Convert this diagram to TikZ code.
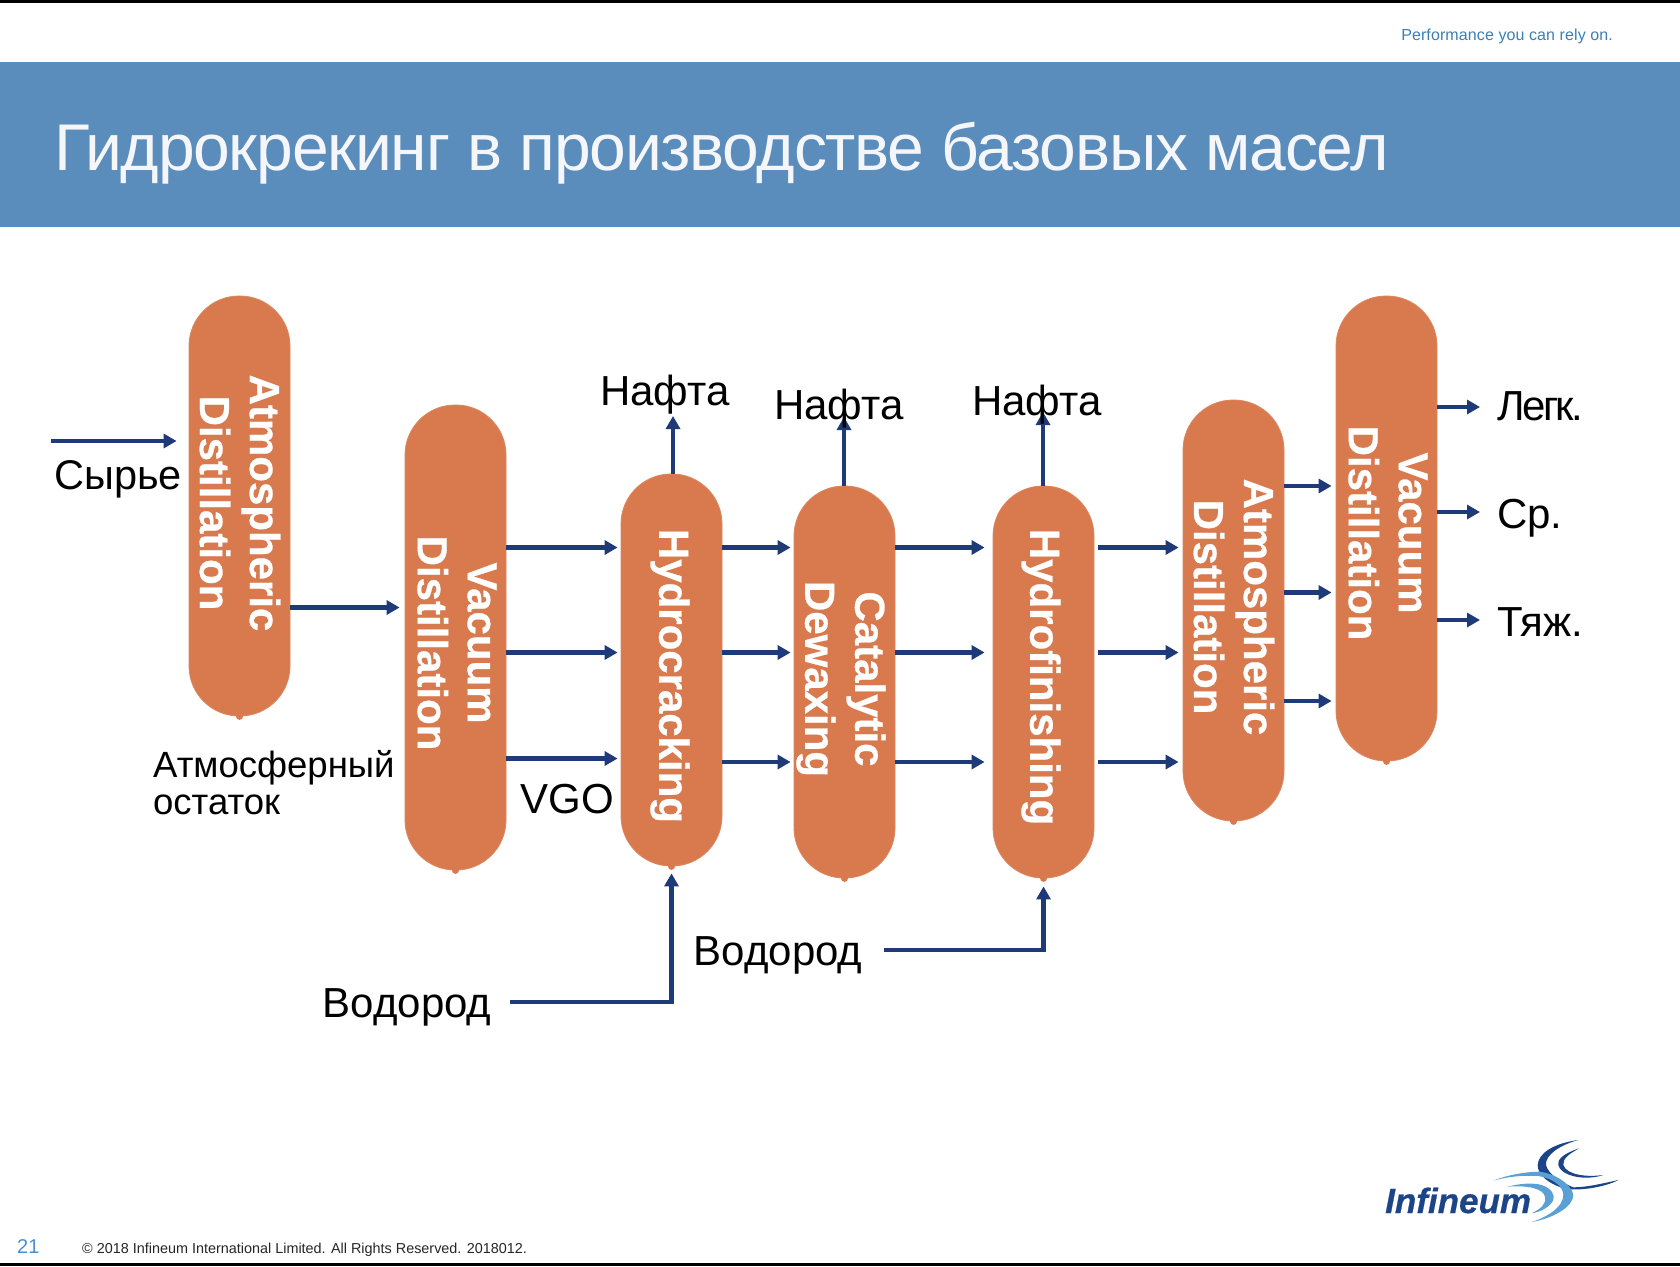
\documentclass[tikz,border=0pt]{standalone}
\usepackage{fontspec}
\setmainfont{Liberation Sans}
\usetikzlibrary{arrows.meta,calc}
\definecolor{bandc}{HTML}{5A8CBC}
\definecolor{vesselc}{HTML}{D87A4E}
\definecolor{flowc}{HTML}{1F3A78}
\definecolor{tagc}{HTML}{3D7FB5}
\definecolor{numc}{HTML}{4A90D0}
\definecolor{logod}{HTML}{1C4488}
\definecolor{logol}{HTML}{5AA0D4}
\definecolor{titlec}{HTML}{F4F6F9}
\tikzset{
  vessel/.style={fill=vesselc,draw=vesselc!90!white,line width=.8pt,rounded corners=50pt,inner sep=0pt,minimum width=101pt},
  vtext/.style={text=white,align=center,rotate=-90,inner sep=0pt,font=\bfseries\addfontfeature{FakeBold=0.6}\fontsize{42}{50}\selectfont},
  flow/.style={draw=flowc,line width=4.2pt,-{Triangle[length=13pt,width=14pt]}},
  lab/.style={inner sep=0pt,text=black,font=\fontsize{42}{50}\selectfont},
}
\begin{document}
\begin{tikzpicture}[x=1pt,y=-1pt]
\useasboundingbox (0,0) rectangle (1680,1266);
\fill[white] (0,0) rectangle (1680,1266);
\fill[black] (0,0) rectangle (1680,3);
\fill[black] (0,1263) rectangle (1680,1266);
\fill[bandc] (0,62) rectangle (1680,227);
\node[anchor=west,inner sep=0pt,text=titlec,font=\fontsize{66}{80}\selectfont] (title) at (54,153) {\addfontfeature{LetterSpace=-1.85}Гидрокрекинг в производстве базовых масел};
\node[anchor=east,inner sep=0pt,text=tagc,font=\fontsize{16}{20}\selectfont] (tag) at (1613,36) {\addfontfeature{LetterSpace=0.7}Performance you can rely on.};

% vessels
\node[vessel,minimum height=420pt] (ad1) at (239.5,506) {};
\node[vessel,minimum height=465pt] (vd1) at (455.5,637.5) {};
\node[vessel,minimum height=392pt] (hc) at (671.5,670) {};
\node[vessel,minimum height=392pt] (cd) at (844.5,682) {};
\node[vessel,minimum height=392pt] (hf) at (1043.5,682) {};
\node[vessel,minimum height=421pt] (ad2) at (1233.5,610.5) {};
\node[vessel,minimum height=465pt] (vd2) at (1386.5,528.5) {};
\foreach \n in {ad1,vd1,hc,cd,hf,ad2,vd2} \fill[vesselc] ([yshift=0pt]\n.south) circle[radius=3.5pt];

\node[vtext] (tad1) at (240,503) {Atmospheric\\Distillation};
\node[vtext] (tvd1) at (457,643) {Vacuum\\Distillation};
\node[vtext] (thc) at (670,676) {Hydrocracking};
\node[vtext] (tcd) at (841,679) {Catalytic\\Dewaxing};
\node[vtext] (thf) at (1041,677) {Hydrofinishing};
\node[vtext] (tad2) at (1234,607) {Atmospheric\\Distillation};
\node[vtext] (tvd2) at (1388,533) {Vacuum\\Distillation};

% level coordinates
\coordinate (y1) at (0,607.5);
\coordinate (ya) at (0,547.5);
\coordinate (yb) at (0,652.5);
\coordinate (yc) at (0,758.5);
\coordinate (yd) at (0,762);
\coordinate (ye) at (0,486);
\coordinate (yf) at (0,592.5);
\coordinate (yg) at (0,701);
\coordinate (yl) at (0,407);
\coordinate (ym) at (0,512);
\coordinate (yh) at (0,620);

% free ends
\coordinate (fs) at (51,441);
\coordinate (h1s) at (510,1002);
\coordinate (h2s) at (884,950);
\coordinate (n1e) at (673,416);
\coordinate (n2e) at (844,417);
\coordinate (n3e) at (1043,412);
\coordinate (oe) at (1480,0);

% connectors
\draw[flow,shorten >=12pt] (fs) -- (ad1.west |- fs);
\draw[flow,shorten >=5pt] (ad1.east |- y1) -- (vd1.west |- y1);
\foreach \y in {ya,yb,yc} \draw[flow,shorten >=3pt] (vd1.east |- \y) -- (hc.west |- \y);
\foreach \y in {ya,yb,yd} {
  \draw[flow,shorten >=3pt] (hc.east |- \y) -- (cd.west |- \y);
  \draw[flow,shorten >=8pt] (cd.east |- \y) -- (hf.west |- \y);
  \draw[flow,shorten >=4pt,shorten <=4pt] (hf.east |- \y) -- (ad2.west |- \y);
}
\foreach \y in {ye,yf,yg} \draw[flow,shorten >=4pt] (ad2.east |- \y) -- (vd2.west |- \y);
\foreach \y in {yl,ym,yh} \draw[flow] (vd2.east |- \y) -- (oe |- \y);
\draw[flow] (hc.north -| n1e) -- (n1e);
\draw[flow] (cd.north -| n2e) -- (n2e);
\draw[flow] (hf.north -| n3e) -- (n3e);
\draw[flow,shorten >=7pt] (h1s) -| (hc.south);
\draw[flow,shorten >=8pt] (h2s) -| (hf.south);

% labels
\node[lab,anchor=west,font=\fontsize{41.5}{50}\selectfont] (feed) at (54,479) {Сырье};
\node[lab,anchor=north west,align=left,font=\fontsize{36.5}{37}\selectfont] (resid) at (153,750) {Атмосферный\\остаток};
\node[lab] (vgo) at (567,799) {VGO};
\node[lab] (n1) at (665,395) {Нафта};
\node[lab] (n2) at (839,409) {Нафта};
\node[lab] (n3) at (1037,405) {Нафта};
\node[lab] (h1) at (407,1007) {Водород};
\node[lab] (h2) at (778,955) {Водород};
\node[lab,anchor=west] (lt) at (1497,406) {\addfontfeature{LetterSpace=-6}Легк.};
\node[lab,anchor=west] (md) at (1497,518) {Ср.};
\node[lab,anchor=west] (hv) at (1497,622) {Тяж.};
\node[inner sep=0pt,anchor=west,text=numc,font=\fontsize{20}{24}\selectfont] (pg) at (17,1246) {21};
\node[inner sep=0pt,anchor=west,text=black!85,font=\fontsize{14.4}{18}\selectfont] (copy) at (82,1250) {© 2018 Infineum International Limited. All Rights Reserved. 2018012.};

% logo
\node[inner sep=0pt,anchor=base west,text=logod,font=\bfseries\itshape\addfontfeature{FakeBold=0.6}\fontsize{35}{40}\selectfont] (logo) at (1385,1213) {Infineum};
\begin{scope}[shift={(1300,1100)},x=.3333pt,y=-.3333pt]
\fill[logod] (835,120) .. controls (760,130) and (715,160) .. (713,195) .. controls (713,225) and (745,250) .. (790,265) .. controls (830,275) and (915,262) .. (955,240) .. controls (910,250) and (860,262) .. (820,262) .. controls (790,250) and (745,225) .. (738,195) .. controls (735,165) and (780,135) .. (835,120) -- cycle;
\fill[logod] (838,145) .. controls (790,160) and (770,180) .. (775,195) .. controls (780,225) and (850,245) .. (910,225) .. controls (860,232) and (800,225) .. (790,195) .. controls (787,175) and (810,160) .. (838,145) -- cycle;
\fill[logol] (580,242) .. controls (620,225) and (680,215) .. (720,215) .. controls (760,220) and (815,250) .. (820,285) .. controls (820,320) and (760,355) .. (695,366) .. controls (745,350) and (790,320) .. (790,285) .. controls (790,260) and (760,235) .. (715,228) .. controls (670,225) and (620,230) .. (580,242) -- cycle;
\fill[logol] (622,260) .. controls (660,250) and (700,248) .. (725,255) .. controls (755,265) and (765,285) .. (760,300) .. controls (750,320) and (725,335) .. (695,340) .. controls (725,325) and (740,310) .. (735,290) .. controls (730,265) and (680,255) .. (622,260) -- cycle;
\end{scope}
\end{tikzpicture}
\end{document}
